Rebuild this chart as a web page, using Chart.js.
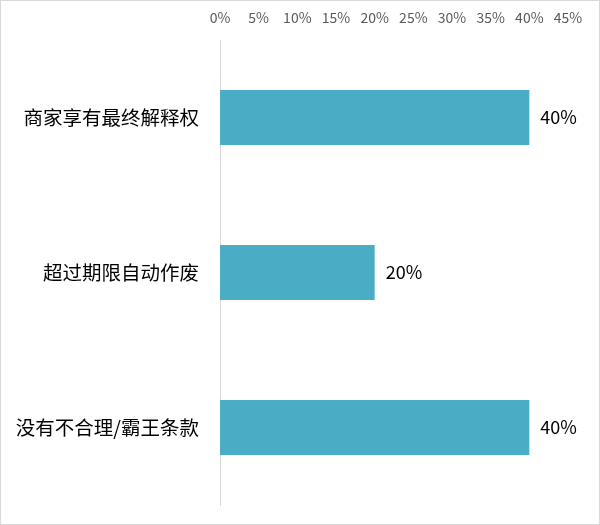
<!DOCTYPE html>
<html><head><meta charset="utf-8">
<script src="https://cdn.jsdelivr.net/npm/chart.js@4"></script>
<style>
html,body{margin:0;padding:0;background:#fff;}
#wrap{width:598px;height:523px;border:1px solid #d9d9d9;position:relative;}
</style></head>
<body>
<div id="wrap"><canvas id="c" width="598" height="523"></canvas></div>
<script>
const categories = ['商家享有最终解释权','超过期限自动作废','没有不合理/霸王条款'];
const values = [40, 20, 40];
const tickValues = [0,5,10,15,20,25,30,35,40,45];

const FONT = '"Microsoft YaHei","Noto Sans CJK SC","Noto Sans",sans-serif';

const dataLabels = {
  id:'dataLabels',
  afterDatasetsDraw(chart){
    const ctx = chart.ctx;
    const meta = chart.getDatasetMeta(0);
    ctx.save();
    ctx.font = '18px ' + FONT;
    ctx.fillStyle = '#000';
    ctx.textAlign = 'left';
    ctx.textBaseline = 'middle';
    meta.data.forEach((bar,i)=>{
      ctx.fillText(values[i] + '%', bar.x + 11, bar.y);
    });
    ctx.restore();
  }
};

new Chart(document.getElementById('c'), {
  type:'bar',
  data:{
    labels: categories,
    datasets:[{data: values, backgroundColor:'#4BACC6', borderWidth:0,
      categoryPercentage:1, barPercentage:0.355}]
  },
  options:{
    indexAxis:'y',
    responsive:false,
    animation:false,
    devicePixelRatio:1,
    layout:{padding:{top:0,right:31,bottom:19,left:0}},
    plugins:{legend:{display:false}, tooltip:{enabled:false}},
    scales:{
      x:{
        position:'top',
        min:0, max:45,
        afterBuildTicks(scale){ scale.ticks = tickValues.map(v=>({value:v})); },
        grid:{display:false},
        border:{display:false},
        ticks:{callback:v=>v+'%', color:'#595959', font:{size:14, family:FONT}, padding:6, maxRotation:0, autoSkip:false},
        afterFit(scale){ scale.height = 39; scale.paddingLeft = 0; scale.paddingRight = 0; }
      },
      y:{
        grid:{display:false},
        border:{display:true, color:'#d9d9d9', width:1},
        ticks:{color:'#000', font:{size:19.5, family:FONT}, padding:13},
        afterFit(scale){ scale.width = 219; scale.paddingTop = 0; scale.paddingBottom = 0; }
      }
    }
  },
  plugins:[dataLabels]
});
</script>
</body></html>
